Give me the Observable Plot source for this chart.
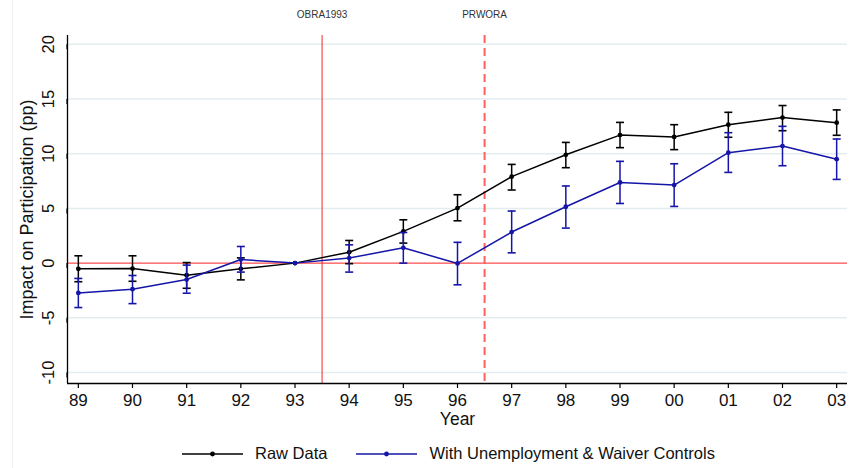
<!DOCTYPE html>
<html><head><meta charset="utf-8">
<script src="https://cdn.jsdelivr.net/npm/d3@7"></script>
<script src="https://cdn.jsdelivr.net/npm/@observablehq/plot@0.6"></script>
<style>
body{margin:0;background:#fff;font-family:"Liberation Sans",Arial,sans-serif;}
#wrap{position:relative;width:857px;height:468px;overflow:hidden;background:#fff;}
#edge{position:absolute;left:12px;top:0;width:1px;height:468px;background:#eef0f3;}
#chart{position:absolute;left:0;top:0;}
#legend{position:absolute;left:182px;top:444px;display:flex;align-items:center;font-size:16.5px;color:#111;white-space:nowrap;}
.item{display:flex;align-items:center;margin-right:29px;}
.item svg{margin-right:12px;display:block;}
</style></head><body>
<div id="wrap"><div id="edge"></div><div id="chart"></div><div id="legend"></div></div>
<script>
// ---- data ----
const years = [1989,1990,1991,1992,1993,1994,1995,1996,1997,1998,1999,2000,2001,2002,2003];
const seriesNames = ["Raw Data", "With Unemployment & Waiver Controls"];
const seriesColors = ["#000000", "#1515a8"];
const rawVals = [-0.52,-0.50,-1.10,-0.52,0,1.00,2.90,5.03,7.90,9.90,11.70,11.53,12.65,13.30,12.83];
const rawHi   = [0.67,0.67,0.05,0.48,0,2.07,3.96,6.25,9.02,11.03,12.86,12.65,13.78,14.40,14.00];
const rawLo   = [-1.70,-1.66,-2.30,-1.53,0,-0.05,1.83,3.87,6.68,8.72,10.55,10.37,11.50,12.10,11.68];
const ctlVals = [-2.72,-2.38,-1.50,0.33,0,0.46,1.40,-0.03,2.84,5.15,7.37,7.13,10.09,10.70,9.50];
const ctlHi   = [-1.40,-1.13,-0.18,1.52,0,1.67,2.80,1.90,4.76,7.05,9.30,9.08,11.92,12.50,11.34];
const ctlLo   = [-4.06,-3.70,-2.75,-0.82,0,-0.82,0.00,-1.98,0.94,3.20,5.45,5.18,8.29,8.90,7.65];
const yTicks = [-10,-5,0,5,10,15,20];
const events = [{x:1993.5, label:"OBRA1993"}, {x:1996.5, label:"PRWORA"}];
const yLabel = "Impact on Participation (pp)";
const xLabel = "Year";
const xDomain = [1988.8, 2003.2];
const yDomain = [-11, 20.8];

// ---- build ----
const mk = (vals, lo, hi, name) => years.map((yr,i)=>({year:yr, v:vals[i], lo:lo[i], hi:hi[i], series:name}));
const rawRows = mk(rawVals, rawLo, rawHi, seriesNames[0]);
const ctlRows = mk(ctlVals, ctlLo, ctlHi, seriesNames[1]);
const capSymbol = {draw(ctx, size){const r=Math.sqrt(size/Math.PI); ctx.moveTo(-r,0); ctx.lineTo(r,0);}};
const fmt = d => String(d).slice(2);

function seriesMarks(rows, color){
  const eb = rows.filter(d => d.hi !== d.lo);
  return [
    Plot.ruleX(eb, {x:"year", y1:"lo", y2:"hi", stroke:color, strokeWidth:1.5}),
    Plot.dot(eb, {x:"year", y:"hi", symbol:capSymbol, r:4, stroke:color, strokeWidth:1.6, fill:"none"}),
    Plot.dot(eb, {x:"year", y:"lo", symbol:capSymbol, r:4, stroke:color, strokeWidth:1.6, fill:"none"}),
    Plot.line(rows, {x:"year", y:"v", stroke:color, strokeWidth:1.5}),
    Plot.dot(rows, {x:"year", y:"v", r:2.4, fill:color, stroke:"none"})
  ];
}

const chart = Plot.plot({
  width:857, height:432,
  marginLeft:67, marginRight:10, marginTop:35, marginBottom:49,
  style:{fontFamily:"'Liberation Sans', Arial, sans-serif", background:"transparent", color:"#111"},
  x:{domain:xDomain},
  y:{domain:yDomain},
  marks:[
    Plot.gridY(yTicks.filter(t=>t!==0), {stroke:"#e3edf0", strokeOpacity:1, strokeWidth:1.5}),
    Plot.ruleY([0], {stroke:"#ff1f1f", strokeWidth:1}),
    Plot.ruleX([events[0].x], {stroke:"#ee2a2a", strokeWidth:1}),
    Plot.ruleX([events[1].x], {stroke:"#ff6060", strokeWidth:2, strokeDasharray:"8,5"}),
    Plot.text(events, {x:"x", text:"label", frameAnchor:"top", dy:-21, lineAnchor:"middle", fontSize:10, fill:"#333"}),
    Plot.axisY({ticks:yTicks, tickFormat:d=>String(d), tickSize:5, tickPadding:9, rotate:-90, textAnchor:"middle", lineAnchor:"bottom", fontSize:16.5, label:null, stroke:"#000", strokeWidth:1.2}),
    Plot.axisX({ticks:years, tickFormat:fmt, tickSize:5, tickPadding:5, fontSize:17, label:null, stroke:"#000", strokeWidth:1.2}),
    Plot.ruleX([xDomain[0]], {stroke:"#000", strokeWidth:1.3}),
    Plot.ruleY([yDomain[0]], {stroke:"#000", strokeWidth:1.3}),
    Plot.text([yLabel], {frameAnchor:"left", dx:-40, rotate:-90, textAnchor:"middle", lineAnchor:"middle", fontSize:18, fill:"#111"}),
    Plot.text([xLabel], {frameAnchor:"bottom", dy:36, lineAnchor:"middle", fontSize:17.5, fill:"#111"}),
    ...seriesMarks(rawRows, seriesColors[0]),
    ...seriesMarks(ctlRows, seriesColors[1])
  ]
});
document.getElementById("chart").appendChild(chart);

// legend
const leg = document.getElementById("legend");
seriesNames.forEach((name,i)=>{
  const item = document.createElement("div");
  item.className = "item";
  item.innerHTML = `<svg width="61" height="10"><line x1="0" y1="5" x2="61" y2="5" stroke="${seriesColors[i]}" stroke-width="1.5"/><circle cx="30.5" cy="5" r="2.4" fill="${seriesColors[i]}"/></svg><span></span>`;
  item.querySelector("span").textContent = name;
  leg.appendChild(item);
});
</script>
</body></html>
